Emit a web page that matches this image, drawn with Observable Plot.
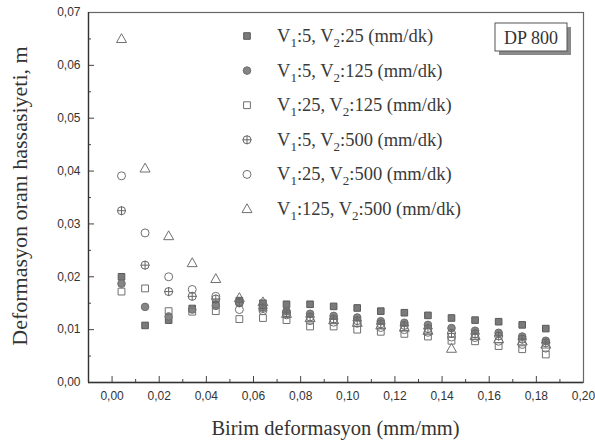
<!DOCTYPE html>
<html>
<head>
<meta charset="utf-8">
<script src="https://cdn.jsdelivr.net/npm/d3@7"></script>
<script src="https://cdn.jsdelivr.net/npm/@observablehq/plot@0.6"></script>
<style>
  body { margin: 0; background: #fff; }
  svg { display: block; }
</style>
</head>
<body>
<div id="chart"></div>
<script>
// Strain values (mm/mm) at which the strain-rate sensitivity was evaluated
const strain = [0.004, 0.014, 0.024, 0.034, 0.044, 0.054, 0.064, 0.074, 0.084, 0.094,
                0.104, 0.114, 0.124, 0.134, 0.144, 0.154, 0.164, 0.174, 0.184];

// Strain-rate sensitivity m for each pair of crosshead speeds
const m_5_25 = [0.0200, 0.0108, 0.0118, 0.0140, 0.0148, 0.0155, 0.0150, 0.0148, 0.0148, 0.0144,
                0.0141, 0.0135, 0.0132, 0.0127, 0.0122, 0.0118, 0.0115, 0.0109, 0.0102];
const m_5_125 = [0.0187, 0.0143, 0.0125, 0.0138, 0.0145, 0.0150, 0.0142, 0.0135, 0.0130, 0.0126,
                 0.0123, 0.0116, 0.0113, 0.0109, 0.0103, 0.0098, 0.0094, 0.0087, 0.0079];
const m_25_125 = [0.0172, 0.0178, 0.0135, 0.0134, 0.0135, 0.0120, 0.0122, 0.0118, 0.0106, 0.0106,
                  0.0100, 0.0096, 0.0092, 0.0087, 0.0079, 0.0078, 0.0069, 0.0063, 0.0053];
const m_5_500 = [0.0325, 0.0222, 0.0172, 0.0163, 0.0158, 0.0152, 0.0140, 0.0132, 0.0124, 0.0120,
                 0.0117, 0.0111, 0.0108, 0.0102, 0.0093, 0.0092, 0.0088, 0.0082, 0.0075];
const m_25_500 = [0.0391, 0.0283, 0.0200, 0.0176, 0.0163, 0.0138, 0.0136, 0.0128, 0.0117, 0.0114,
                  0.0112, 0.0104, 0.0100, 0.0095, 0.0086, 0.0085, 0.0078, 0.0072, 0.0065];
const m_125_500 = [0.0650, 0.0405, 0.0277, 0.0226, 0.0196, 0.0160, 0.0152, 0.0130, 0.0122, 0.0118,
                   0.0113, 0.0108, 0.0104, 0.0098, 0.0064, 0.0088, 0.0082, 0.0078, 0.0072];

// Legend speed pairs V1, V2 (mm/dk)
const speedV1 = ["5", "5", "25", "5", "25", "125"];
const speedV2 = ["25", "125", "125", "500", "500", "500"];

// Axis ticks
const xMajor = [0, 0.02, 0.04, 0.06, 0.08, 0.10, 0.12, 0.14, 0.16, 0.18, 0.20];
const xMinor = [0.01, 0.03, 0.05, 0.07, 0.09, 0.11, 0.13, 0.15, 0.17, 0.19];
const yMajor = [0, 0.01, 0.02, 0.03, 0.04, 0.05, 0.06, 0.07];
const yMinor = [0.005, 0.015, 0.025, 0.035, 0.045, 0.055, 0.065];

const materialLabel = "DP 800";
const xTitle = "Birim deformasyon (mm/mm)";
const yTitle = "Deformasyon oranı hassasiyeti, m";

// Custom marker shapes (size = π r²)
const rOf = s => Math.sqrt(s / Math.PI);
const symSquare = { draw(c, s) { const r = rOf(s); c.moveTo(-r, -r); c.lineTo(r, -r); c.lineTo(r, r); c.lineTo(-r, r); c.closePath(); } };
const symCircle = { draw(c, s) { const r = rOf(s); c.moveTo(r, 0); c.arc(0, 0, r, 0, 2 * Math.PI); } };
const symTriangle = { draw(c, s) { const r = rOf(s); c.moveTo(0, -r * 1.05); c.lineTo(r, r * 0.72); c.lineTo(-r, r * 0.72); c.closePath(); } };
const symCrosshair = { draw(c, s) { const r = rOf(s); c.moveTo(r, 0); c.arc(0, 0, r, 0, 2 * Math.PI);
  c.moveTo(-r - 0.5, 0); c.lineTo(r + 0.5, 0); c.moveTo(0, -r - 0.5); c.lineTo(0, r + 0.5); } };

const seriesList = [
  { values: m_5_25,    symbol: symSquare,    r: 3.3, fill: "#7a7a7a", stroke: "#5a5a5a" },
  { values: m_5_125,   symbol: symCircle,    r: 3.8, fill: "#858585", stroke: "#6e6e6e" },
  { values: m_25_125,  symbol: symSquare,    r: 3.4, fill: "none",    stroke: "#707070" },
  { values: m_5_500,   symbol: symCrosshair, r: 4.0, fill: "none",    stroke: "#666666" },
  { values: m_25_500,  symbol: symCircle,    r: 4.0, fill: "none",    stroke: "#707070" },
  { values: m_125_500, symbol: symTriangle,  r: 5.0, fill: "none",    stroke: "#707070" }
];

const W = 595, H = 446;
const mL = 88, mR = 12, mT = 12, mB = 64;
const frameW = W - mL - mR, frameH = H - mT - mB;
const fmt = d => d.toFixed(2).replace(".", ",");

const dotMarks = seriesList.map(s =>
  Plot.dot(strain.map((x, i) => ({ x, m: s.values[i] })), {
    x: "x", y: "m", symbol: s.symbol, r: s.r,
    fill: s.fill, stroke: s.stroke, strokeWidth: 1
  })
);

const chart = Plot.plot({
  width: W, height: H,
  marginLeft: mL, marginRight: mR, marginTop: mT, marginBottom: mB,
  style: { background: "#fff", overflow: "visible" },
  x: { domain: [-0.01, 0.20] },
  y: { domain: [0, 0.07] },
  marks: [
    Plot.frame({ stroke: "#666", strokeWidth: 1.2 }),
    Plot.axisX(xMajor, { tickSize: 0, tickPadding: 9, tickFormat: fmt, label: null,
      fontSize: 12, fontFamily: "Liberation Sans, Arial, sans-serif", fill: "#333" }),
    Plot.axisY(yMajor, { tickSize: 0, tickPadding: 8, tickFormat: fmt, label: null,
      fontSize: 12, fontFamily: "Liberation Sans, Arial, sans-serif", fill: "#333" }),
    Plot.tickX(xMajor.slice(0, -1), { x: d => d, insetTop: frameH - 6, stroke: "#444" }),
    Plot.tickX(xMinor, { x: d => d, insetTop: frameH - 3, stroke: "#444" }),
    Plot.tickY(yMajor.slice(1, -1), { y: d => d, insetRight: frameW - 6, stroke: "#444" }),
    Plot.tickY(yMinor, { y: d => d, insetRight: frameW - 3, stroke: "#444" }),
    Plot.ruleY([0], { stroke: "#333", strokeWidth: 1.3 }),
    Plot.ruleX([-0.01], { stroke: "#333", strokeWidth: 1.3 }),
    ...dotMarks
  ]
});

const svg = d3.select(chart);
const serif = "Liberation Serif, Times New Roman, serif";

// Axis titles
svg.append("text")
  .attr("x", mL + frameW / 2).attr("y", 435)
  .attr("text-anchor", "middle").attr("font-family", serif).attr("font-size", 20.5)
  .attr("fill", "#333").text(xTitle);
svg.append("text")
  .attr("transform", `translate(27,${mT + frameH / 2 - 1}) rotate(-90)`)
  .attr("text-anchor", "middle").attr("font-family", serif).attr("font-size", 22)
  .attr("fill", "#333").text(yTitle);

// Legend
const leg = svg.append("g").attr("text-anchor", "start");
speedV1.forEach((v1, i) => {
  const s = seriesList[i];
  const cy = 36 + i * 34.6;
  const path = d3.path();
  s.symbol.draw(path, s.r * s.r * Math.PI);
  leg.append("path").attr("transform", `translate(247,${cy})`).attr("d", path.toString())
    .attr("fill", s.fill).attr("stroke", s.stroke);
  const t = leg.append("text").attr("x", 277).attr("y", cy + 6)
    .attr("text-anchor", "start")
    .attr("font-family", serif).attr("font-size", 18.5).attr("fill", "#3a3a3a");
  t.append("tspan").text("V");
  t.append("tspan").attr("font-size", 13).attr("dy", 5).text("1");
  t.append("tspan").attr("dy", -5).text(`:${v1}, V`);
  t.append("tspan").attr("font-size", 13).attr("dy", 5).text("2");
  t.append("tspan").attr("dy", -5).text(`:${speedV2[i]} (mm/dk)`);
});

// Material tag with drop shadow
const tag = svg.append("g");
tag.append("rect").attr("x", 499).attr("y", 27).attr("width", 72).attr("height", 28).attr("fill", "#8a8a8a");
tag.append("rect").attr("x", 495).attr("y", 23).attr("width", 72).attr("height", 28)
  .attr("fill", "#fff").attr("stroke", "#555");
tag.append("text").attr("x", 531).attr("y", 43.5).attr("text-anchor", "middle")
  .attr("font-family", serif).attr("font-size", 18).attr("fill", "#333").text(materialLabel);

document.getElementById("chart").appendChild(chart);
</script>
</body>
</html>
